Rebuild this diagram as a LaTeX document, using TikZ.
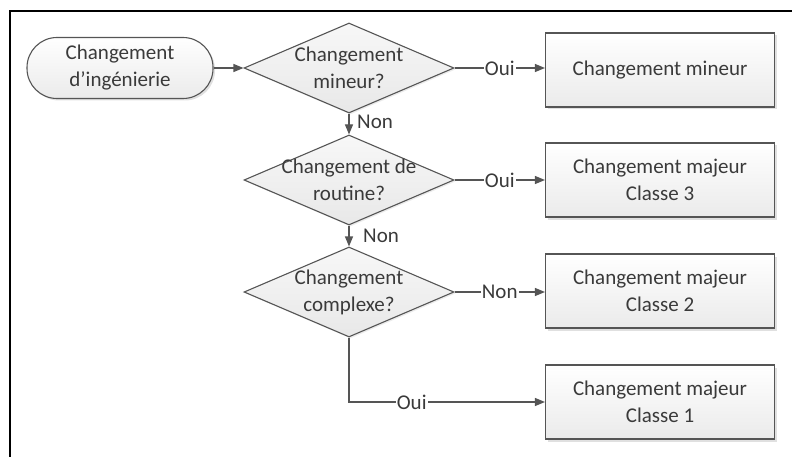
\documentclass[tikz,border=0pt]{standalone}
\usepackage{fontspec}
\setmainfont{Carlito}
\usetikzlibrary{shapes.geometric,arrows.meta,shadows}
\definecolor{ink}{HTML}{3A3A3A}
\definecolor{edge}{HTML}{555555}
\tikzset{
  base/.style={draw=edge, line width=1.1pt, text=ink, font=\fontsize{21}{27}\selectfont, align=center},
  boxnode/.style={base, rectangle, minimum width=229pt, minimum height=74pt, inner sep=0pt,
    top color=white, bottom color=black!8,
    drop shadow={shadow xshift=2.5pt, shadow yshift=-2.5pt, fill=black!12, opacity=1}},
  termnode/.style={base, rectangle, rounded corners=30pt, minimum width=186pt, minimum height=61pt, inner sep=0pt,
    top color=white, bottom color=black!8,
    drop shadow={shadow xshift=2pt, shadow yshift=-2pt, fill=black!12, opacity=1}},
  decnode/.style={base, diamond, aspect=2.33, minimum width=210pt, minimum height=90pt, inner sep=0pt,
    top color=black!3, bottom color=black!9,
    drop shadow={shadow xshift=1.5pt, shadow yshift=-1.5pt, fill=black!8, opacity=1}},
  dectext/.style={text=ink, font=\fontsize{21}{27}\selectfont, align=center, inner sep=0pt},
  link/.style={draw=edge, line width=1.1pt, -{Triangle[length=10pt,width=8pt]}},
  lbl/.style={text=ink, font=\fontsize{21}{27}\selectfont, inner sep=1pt},
  cutlbl/.style={lbl, fill=white}
}
\begin{document}
\begin{tikzpicture}[x=1pt,y=-1pt]
  \useasboundingbox (0,0) rectangle (792,457);
  % frame lines
  \draw[black, line width=2.2pt] (10,457) -- (10,11) -- (792,11);

  % start
  \node[termnode] (start) at (120,68) {Changement\\d’ingénierie};

  % decisions
  \node[decnode] (d1) at (349,68) {};
  \node[dectext] (t1) at (349,68) {Changement\\mineur?};
  \node[decnode] (d2) at (349,180) {};
  \node[dectext] (t2) at (349,180) {Changement de\\routine?};
  \node[decnode] (d3) at (349,292) {};
  \node[dectext] (t3) at (349,292) {Changement\\complexe?};

  % outcomes
  \node[boxnode] (b1) at (660,70) {Changement mineur};
  \node[boxnode] (b2) at (660,180) {Changement majeur\\Classe 3};
  \node[boxnode] (b3) at (660,291) {Changement majeur\\Classe 2};
  \node[boxnode] (b4) at (660,402) {Changement majeur\\Classe 1};

  % connectors
  \draw[link] (start.east) -- (d1.west);
  \draw[link] (d1.east) -- node[cutlbl] {Oui} (d1.east -| b1.west);
  \draw[link] (d1.south) -- (d2.north);
  \node[lbl, anchor=west] (n1) at (356,122) {Non};
  \draw[link] (d2.east) -- node[cutlbl] {Oui} (d2.east -| b2.west);
  \draw[link] (d2.south) -- (d3.north);
  \node[lbl, anchor=west] (n2) at (362,236) {Non};
  \draw[link] (d3.east) -- node[cutlbl] {Non} (d3.east -| b3.west);
  \coordinate (bend) at (d3.south |- b4.west);
  \draw[link] (d3.south) -- (bend) -- node[cutlbl, pos=0.32] {Oui} (b4.west);
\end{tikzpicture}
\end{document}
